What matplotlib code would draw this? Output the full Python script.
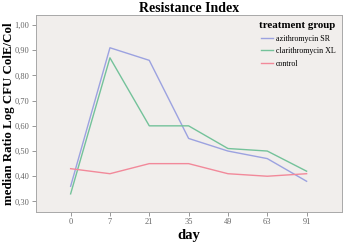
import matplotlib
matplotlib.use("Agg")
import matplotlib.pyplot as plt

days = ["0", "7", "21", "35", "49", "63", "91"]
azithromycin = [0.36, 0.91, 0.86, 0.55, 0.50, 0.47, 0.38]
clarithromycin = [0.33, 0.87, 0.60, 0.60, 0.51, 0.50, 0.42]
control = [0.43, 0.41, 0.45, 0.45, 0.41, 0.40, 0.41]
series_names = ["azithromycin SR", "clarithromycin XL", "control"]
yticks = [0.30, 0.40, 0.50, 0.60, 0.70, 0.80, 0.90, 1.00]
ytick_labels = ["0,30", "0,40", "0,50", "0,60", "0,70", "0,80", "0,90", "1,00"]

serif = ["Liberation Serif", "DejaVu Serif"]

fig = plt.figure(figsize=(3.43, 2.47), dpi=100)
ax = fig.add_axes([36 / 343, 1 - 211.5 / 247, (342 - 36) / 343, (211.5 - 15) / 247])
ax.set_facecolor("#F1EEEC")

x = list(range(len(days)))
colors = ["#9CA2E0", "#74C29A", "#F2899A"]
for vals, name, c in zip([azithromycin, clarithromycin, control], series_names, colors):
    ax.plot(x, vals, color=c, lw=1.0, label=name)

ax.set_xlim(-0.88, 6.9)
ax.set_ylim(0.26, 1.04)
ax.set_xticks(x)
ax.set_xticklabels(days, fontfamily=serif, fontsize=6, color="#666666")
ax.set_yticks(yticks)
ax.set_yticklabels(ytick_labels, fontfamily=serif, fontsize=6, color="#666666")
ax.tick_params(axis="both", direction="out", length=3, width=0.6, color="#888888", pad=2)
for s in ax.spines.values():
    s.set_color("#A8A8A8")
    s.set_linewidth(0.7)

ax.set_title("Resistance Index", fontfamily=serif, fontweight="bold", fontsize=10, pad=1)
ax.set_ylabel("median Ratio Log CFU ColE/Col", fontfamily=serif, fontweight="bold", fontsize=9.3)
ax.yaxis.set_label_coords(-0.07, 0.5)
ax.set_xlabel("day", fontfamily=serif, fontweight="bold", fontsize=10.5, labelpad=2)

leg = ax.legend(loc="upper right", frameon=False, prop={"family": serif, "size": 5.8},
                title="treatment group", title_fontproperties={"family": serif, "weight": "bold", "size": 7.8},
                handlelength=1.6, handletextpad=0.3, labelspacing=0.55, borderaxespad=0.4)
leg._legend_box.align = "right"

fig.savefig("out.png", dpi=100)
